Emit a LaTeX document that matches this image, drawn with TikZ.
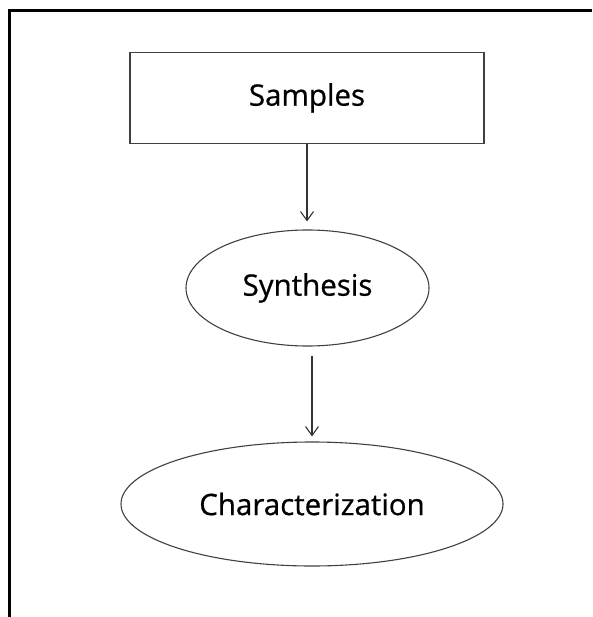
\documentclass[tikz,border=0pt]{standalone}
\usepackage{fontspec}
\setmainfont{Open Sans}[FakeBold=0.7]
\usetikzlibrary{shapes.geometric,arrows.meta}
\tikzset{
  stagebox/.style={draw=black!75,line width=1.1pt,minimum width=354pt,minimum height=91pt,inner sep=0pt},
  stageoval/.style={draw=black!75,line width=1.1pt,ellipse,inner sep=0pt},
  flow/.style={-{Straight Barb[length=9pt,width=13pt]},draw=black!80,line width=1.1pt},
  lbl/.style={font=\fontsize{29.5}{34}\selectfont}
}
\begin{document}
\begin{tikzpicture}[x=1pt,y=-1pt]
    \useasboundingbox (0,0) rectangle (592,617);
    % Frame
    \coordinate (ftop) at (592,11);
    \coordinate (fcorner) at (9,11);
    \coordinate (fbottom) at (9,617);
    \draw[line width=3pt] (ftop) -- (fcorner) -- (fbottom);

    % Samples
    \node[stagebox,lbl] (samples) at (307,98) {Samples};

    % Synthesis
    \node[stageoval,lbl,minimum width=243pt,minimum height=116pt] (synth) at (307.5,288) {Synthesis};

    % Characterization
    \node[stageoval,lbl,minimum width=382pt,minimum height=124pt] (charac) at (312,504) {Characterization};

    % Connections
    \draw[flow,shorten >=8pt] (samples.south) -- (samples.south |- synth.north);
    \draw[flow,shorten <=9pt,shorten >=5pt] (synth.south -| charac.north) -- (charac.north);
\end{tikzpicture}
\end{document}
